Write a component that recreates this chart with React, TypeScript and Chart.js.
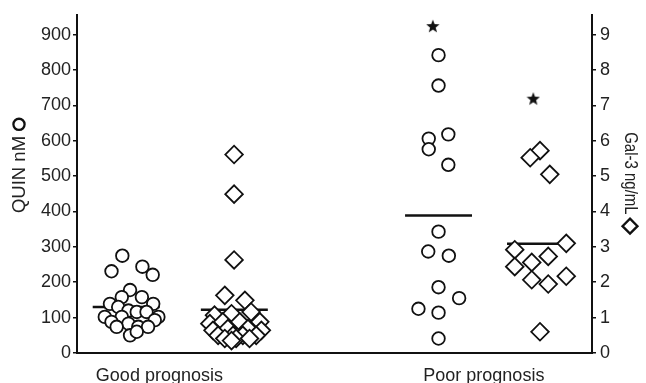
import React, { useEffect, useRef } from 'react';
import { Chart, registerables } from 'chart.js';

Chart.register(...registerables);

// ---- Data ----
const categories = ['Good prognosis', 'Poor prognosis'];
const categoryTickPositions = [1.6, 7.9];
const quinTicks = [0, 100, 200, 300, 400, 500, 600, 700, 800, 900];
const galTicks = [0, 1, 2, 3, 4, 5, 6, 7, 8, 9];
const leftTitle = 'QUIN nM';
const rightTitle = 'Gal-3 ng/mL';

// Good prognosis – QUIN (nM), circles
const goodQuin = [275, 231, 244, 221, 178, 158, 158, 139, 139, 130, 120, 116, 116, 102, 102, 102, 88, 93, 83, 74, 74, 74, 50, 60];
const goodQuinX = [0.88, 0.67, 1.27, 1.47, 1.03, 0.87, 1.26, 0.64, 1.48, 0.8, 1.0, 1.16, 1.35, 0.54, 1.58, 0.87, 0.67, 1.51, 1.0, 1.19, 0.77, 1.38, 1.03, 1.16];

// Good prognosis – Gal-3 (ng/mL), diamonds
const goodGal = [5.61, 4.49, 2.63, 1.63, 1.49, 1.07, 1.11, 1.16, 0.83, 0.88, 0.88, 0.88, 0.64, 0.69, 0.69, 0.64, 0.5, 0.5, 0.5, 0.5, 0.41, 0.41, 0.41, 0.35];
const goodGalX = [3.05, 3.05, 3.05, 2.87, 3.26, 2.67, 3.0, 3.38, 2.58, 2.83, 3.16, 3.55, 2.64, 2.93, 3.32, 3.58, 2.74, 3.03, 3.22, 3.48, 2.87, 3.09, 3.35, 3.0];

// Poor prognosis – QUIN (nM), circles
const poorQuin = [842, 756, 618, 606, 576, 532, 343, 287, 275, 186, 155, 125, 114, 41];
const poorQuinX = [7.02, 7.02, 7.21, 6.83, 6.83, 7.21, 7.02, 6.82, 7.22, 7.02, 7.42, 6.63, 7.02, 7.02];

// Poor prognosis – Gal-3 (ng/mL), diamonds
const poorGal = [5.72, 5.52, 5.05, 3.1, 2.92, 2.73, 2.56, 2.44, 2.07, 2.17, 1.95, 0.6];
const poorGalX = [8.99, 8.8, 9.18, 9.5, 8.5, 9.15, 8.83, 8.5, 8.83, 9.5, 9.15, 8.99];

// Means (horizontal bars)
const meanQuin = [130, 389];
const meanGal = [1.22, 3.09];
const meanQuinCenters = [0.955, 7.02];
const meanGalCenters = [3.055, 9.0];
const meanHalfWidth = 0.65;

// Significance stars
const starQuin = [{ x: 6.91, y: 924 }];
const starGal = [{ x: 8.86, y: 7.19 }];

const FONT = "'Liberation Sans', Arial, Helvetica, sans-serif";
const TEXT = '#222';
const INK = '#111';

function makeStar(size: number): HTMLCanvasElement {
  const c = document.createElement('canvas');
  c.width = size;
  c.height = size;
  const ctx = c.getContext('2d')!;
  const cx = size / 2, cy = size / 2 + 0.5;
  const R = size / 2, r = R * 0.42;
  ctx.beginPath();
  for (let i = 0; i < 10; i++) {
    const rad = (Math.PI / 5) * i - Math.PI / 2;
    const rr = i % 2 === 0 ? R : r;
    const px = cx + Math.cos(rad) * rr;
    const py = cy + Math.sin(rad) * rr;
    if (i === 0) ctx.moveTo(px, py); else ctx.lineTo(px, py);
  }
  ctx.closePath();
  ctx.fillStyle = INK;
  ctx.fill();
  return c;
}

// Axis titles with their marker symbols
const axisTitlesPlugin = {
  id: 'axisTitles',
  afterDraw(chart: any) {
    const { ctx, chartArea } = chart;
    const cy = (chartArea.top + chartArea.bottom) / 2;
    ctx.save();
    ctx.fillStyle = TEXT;
    ctx.strokeStyle = INK;
    ctx.textBaseline = 'middle';
    ctx.textAlign = 'center';

    // Left: text reads bottom->top, circle marker after text (above)
    ctx.font = `18.5px ${FONT}`;
    const wl = ctx.measureText(leftTitle).width;
    const rL = 5.6, gapL = 6;
    const totalL = wl + gapL + rL * 2;
    const groupCenterL = cy - 18;
    const textCenterL = groupCenterL + totalL / 2 - wl / 2;
    const xL = 19;
    ctx.save();
    ctx.translate(xL, textCenterL);
    ctx.rotate(-Math.PI / 2);
    ctx.fillText(leftTitle, 0, 1);
    ctx.restore();
    const markerL = groupCenterL - totalL / 2 + rL;
    ctx.lineWidth = 2.3;
    ctx.beginPath();
    ctx.arc(xL, markerL, rL, 0, Math.PI * 2);
    ctx.stroke();

    // Right: text reads top->bottom, diamond marker after text (below)
    ctx.font = `15px ${FONT}`;
    const wr = ctx.measureText(rightTitle).width;
    const rR = 7.5, gapR = 4;
    const totalR = wr + gapR + rR * 2;
    const groupCenterR = cy - 1;
    const textCenterR = groupCenterR - totalR / 2 + wr / 2;
    const xR = 630;
    ctx.save();
    ctx.translate(xR, textCenterR);
    ctx.rotate(Math.PI / 2);
    ctx.scale(1, 1.2);
    ctx.fillText(rightTitle, 0, 0);
    ctx.restore();
    const markerR = groupCenterR + totalR / 2 - rR;
    ctx.lineWidth = 2.3;
    ctx.beginPath();
    ctx.moveTo(xR, markerR - rR);
    ctx.lineTo(xR + rR, markerR);
    ctx.lineTo(xR, markerR + rR);
    ctx.lineTo(xR - rR, markerR);
    ctx.closePath();
    ctx.stroke();
    ctx.restore();
  },
};

export default function App() {
  const ref = useRef<HTMLCanvasElement | null>(null);

  useEffect(() => {
    document.body.style.margin = '0';
    const canvas = ref.current;
    if (!canvas) return;
    const star = makeStar(14);

    const circleStyle = {
      pointStyle: 'circle' as const,
      pointRadius: 6.3,
      pointBorderWidth: 1.8,
      pointBorderColor: INK,
      pointBackgroundColor: '#fff',
      showLine: false,
      order: 1,
    };
    const diamondStyle = {
      pointStyle: 'rectRot' as const,
      pointRadius: 8.8,
      pointBorderWidth: 1.8,
      pointBorderColor: INK,
      pointBackgroundColor: '#fff',
      showLine: false,
      order: 1,
    };
    const meanStyle = {
      type: 'line' as const,
      borderColor: INK,
      borderWidth: 2.5,
      pointRadius: 0,
      showLine: true,
      fill: false,
      order: 5,
    };

    const datasets: any[] = [
      { label: 'Good QUIN', data: goodQuin.map((y, i) => ({ x: goodQuinX[i], y })), yAxisID: 'y', ...circleStyle },
      { label: 'Good Gal-3', data: goodGal.map((y, i) => ({ x: goodGalX[i], y })), yAxisID: 'y2', ...diamondStyle },
      { label: 'Poor QUIN', data: poorQuin.map((y, i) => ({ x: poorQuinX[i], y })), yAxisID: 'y', ...circleStyle },
      { label: 'Poor Gal-3', data: poorGal.map((y, i) => ({ x: poorGalX[i], y })), yAxisID: 'y2', ...diamondStyle },
      ...meanQuin.map((m, i) => ({
        label: 'Mean QUIN ' + i,
        data: [{ x: meanQuinCenters[i] - meanHalfWidth, y: m }, { x: meanQuinCenters[i] + meanHalfWidth, y: m }],
        yAxisID: 'y',
        ...meanStyle,
      })),
      ...meanGal.map((m, i) => ({
        label: 'Mean Gal ' + i,
        data: [{ x: meanGalCenters[i] - meanHalfWidth, y: m }, { x: meanGalCenters[i] + meanHalfWidth, y: m }],
        yAxisID: 'y2',
        ...meanStyle,
      })),
      { label: 'Star QUIN', data: starQuin, yAxisID: 'y', pointStyle: star, pointRadius: 7, showLine: false, order: 0 },
      { label: 'Star Gal', data: starGal, yAxisID: 'y2', pointStyle: star, pointRadius: 7, showLine: false, order: 0 },
    ];

    const chart = new Chart(canvas, {
      type: 'scatter',
      data: { datasets },
      plugins: [axisTitlesPlugin],
      options: {
        responsive: false,
        animation: false,
        events: [],
        layout: { padding: { top: 12, left: 0, right: 0, bottom: 0 } },
        plugins: { legend: { display: false }, tooltip: { enabled: false }, title: { display: false } },
        scales: {
          x: {
            type: 'linear',
            min: 0,
            max: 10,
            afterBuildTicks: (scale: any) => {
              scale.ticks = categoryTickPositions.map((v) => ({ value: v }));
            },
            afterFit: (scale: any) => { scale.height = 30; },
            ticks: {
              autoSkip: false,
              maxRotation: 0,
              padding: 12,
              color: TEXT,
              font: { family: FONT, size: 18 },
              callback: (_v: any, i: number) => categories[i],
            },
            grid: { display: false, drawTicks: false },
            border: { display: true, color: INK, width: 2 },
          },
          y: {
            type: 'linear',
            position: 'left',
            min: 0,
            max: 956,
            afterBuildTicks: (scale: any) => {
              scale.ticks = quinTicks.map((v) => ({ value: v }));
            },
            afterFit: (scale: any) => { scale.width = 77; },
            ticks: { color: TEXT, padding: 2, font: { family: FONT, size: 18 } },
            grid: { drawOnChartArea: false, drawTicks: true, tickLength: 4, color: INK, lineWidth: 1.5 },
            border: { display: true, color: INK, width: 2 },
          },
          y2: {
            type: 'linear',
            position: 'right',
            min: 0,
            max: 9.56,
            afterBuildTicks: (scale: any) => {
              scale.ticks = galTicks.map((v) => ({ value: v }));
            },
            afterFit: (scale: any) => { scale.width = 54; },
            ticks: { color: TEXT, padding: 4, font: { family: FONT, size: 18 } },
            grid: { drawOnChartArea: false, drawTicks: true, tickLength: 4, color: INK, lineWidth: 1.5 },
            border: { display: true, color: INK, width: 2 },
          },
        },
      },
    });

    return () => chart.destroy();
  }, []);

  return (
    <div style={{ width: 646, height: 383, background: '#fff' }}>
      <canvas ref={ref} width={646} height={383} style={{ display: 'block' }} />
    </div>
  );
}
